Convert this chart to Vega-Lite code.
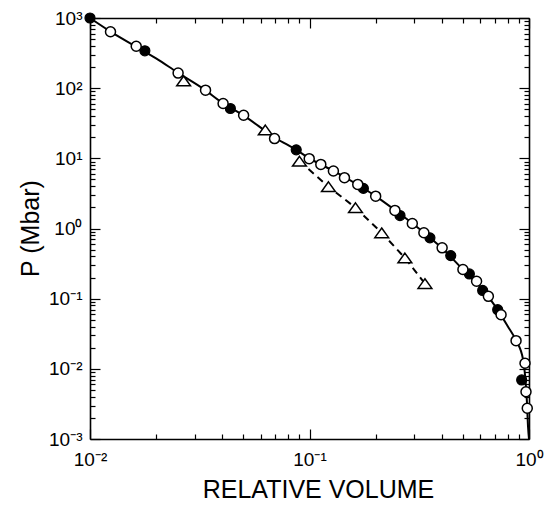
{
  "$schema": "https://vega.github.io/schema/vega-lite/v6.json",
  "width": 439,
  "height": 421,
  "autosize": "none",
  "padding": {"left": 90, "top": 18, "right": 26, "bottom": 68},
  "background": "white",
  "config": {
    "view": {"stroke": null},
    "font": "Liberation Sans",
    "axis": {
      "domainColor": "black", "domainWidth": 1.6, "tickColor": "black", "tickWidth": 1.2,
      "labelColor": "black", "titleColor": "black", "grid": false,
      "labelFont": "Liberation Sans", "titleFont": "Liberation Sans",
      "labelFontSize": 19, "titleFontSize": 25, "titleFontWeight": "normal",
      "labelOverlap": false, "labelFlush": false, "labelBound": false
    }
  },
  "data": {"values": [
    {"s": "curve", "v": 0.01, "p": 1000}, {"s": "curve", "v": 0.0124, "p": 640}, {"s": "curve", "v": 0.016, "p": 400},
    {"s": "curve", "v": 0.02, "p": 266}, {"s": "curve", "v": 0.025, "p": 168}, {"s": "curve", "v": 0.033, "p": 97},
    {"s": "curve", "v": 0.04, "p": 62}, {"s": "curve", "v": 0.05, "p": 41}, {"s": "curve", "v": 0.07, "p": 19.5},
    {"s": "curve", "v": 0.087, "p": 13.2}, {"s": "curve", "v": 0.1, "p": 10}, {"s": "curve", "v": 0.13, "p": 6.5},
    {"s": "curve", "v": 0.17, "p": 4.0}, {"s": "curve", "v": 0.2, "p": 2.9}, {"s": "curve", "v": 0.25, "p": 1.75},
    {"s": "curve", "v": 0.3, "p": 1.13}, {"s": "curve", "v": 0.35, "p": 0.76}, {"s": "curve", "v": 0.4, "p": 0.53},
    {"s": "curve", "v": 0.5, "p": 0.26}, {"s": "curve", "v": 0.6, "p": 0.147}, {"s": "curve", "v": 0.7, "p": 0.079},
    {"s": "curve", "v": 0.8, "p": 0.0405}, {"s": "curve", "v": 0.873, "p": 0.0254}, {"s": "curve", "v": 0.94, "p": 0.0135},
    {"s": "curve", "v": 0.965, "p": 0.0065}, {"s": "curve", "v": 0.978, "p": 0.0035}, {"s": "curve", "v": 0.99, "p": 0.0015},
    {"s": "curve", "v": 1.0, "p": 0.001},
    {"s": "dash", "v": 0.09, "p": 9.1}, {"s": "dash", "v": 0.122, "p": 3.95}, {"s": "dash", "v": 0.162, "p": 1.98},
    {"s": "dash", "v": 0.2133, "p": 0.868}, {"s": "dash", "v": 0.272, "p": 0.381}, {"s": "dash", "v": 0.3357, "p": 0.164},
    {"s": "tri", "v": 0.0267, "p": 127}, {"s": "tri", "v": 0.0629, "p": 25.4}, {"s": "tri", "v": 0.09, "p": 9.1},
    {"s": "tri", "v": 0.122, "p": 3.95}, {"s": "tri", "v": 0.162, "p": 1.98}, {"s": "tri", "v": 0.2133, "p": 0.868},
    {"s": "tri", "v": 0.272, "p": 0.381}, {"s": "tri", "v": 0.3357, "p": 0.164},
    {"s": "filled", "v": 0.01, "p": 1000}, {"s": "filled", "v": 0.01778, "p": 341}, {"s": "filled", "v": 0.0436, "p": 51.3},
    {"s": "filled", "v": 0.087, "p": 13.2}, {"s": "filled", "v": 0.176, "p": 3.73}, {"s": "filled", "v": 0.2584, "p": 1.53},
    {"s": "filled", "v": 0.3537, "p": 0.736}, {"s": "filled", "v": 0.44, "p": 0.411}, {"s": "filled", "v": 0.535, "p": 0.225},
    {"s": "filled", "v": 0.615, "p": 0.131}, {"s": "filled", "v": 0.72, "p": 0.0697}, {"s": "filled", "v": 0.926, "p": 0.00694},
    {"s": "open", "v": 0.0124, "p": 637}, {"s": "open", "v": 0.01624, "p": 395}, {"s": "open", "v": 0.0252, "p": 164},
    {"s": "open", "v": 0.0336, "p": 93.6}, {"s": "open", "v": 0.0404, "p": 60.4}, {"s": "open", "v": 0.0501, "p": 41.1},
    {"s": "open", "v": 0.0693, "p": 19.1}, {"s": "open", "v": 0.0997, "p": 9.9}, {"s": "open", "v": 0.1126, "p": 8.2},
    {"s": "open", "v": 0.1285, "p": 6.6}, {"s": "open", "v": 0.1443, "p": 5.3}, {"s": "open", "v": 0.1659, "p": 4.25},
    {"s": "open", "v": 0.2002, "p": 2.89}, {"s": "open", "v": 0.245, "p": 1.81}, {"s": "open", "v": 0.294, "p": 1.18},
    {"s": "open", "v": 0.332, "p": 0.869}, {"s": "open", "v": 0.402, "p": 0.53}, {"s": "open", "v": 0.5, "p": 0.26},
    {"s": "open", "v": 0.577, "p": 0.177}, {"s": "open", "v": 0.653, "p": 0.108}, {"s": "open", "v": 0.746, "p": 0.059},
    {"s": "open", "v": 0.873, "p": 0.0252}, {"s": "open", "v": 0.959, "p": 0.012}, {"s": "open", "v": 0.969, "p": 0.00472},
    {"s": "open", "v": 0.982, "p": 0.00274}
  ]},
  "resolve": {"axis": {"x": "independent", "y": "independent"}},
  "layer": [
    {
      "transform": [{"filter": "datum.s === 'curve'"}],
      "mark": {"type": "line", "color": "black", "strokeWidth": 2, "interpolate": "monotone"},
      "encoding": {
        "x": {"field": "v", "type": "quantitative", "scale": {"type": "log", "domain": [0.01, 1], "nice": false},
          "axis": {"orient": "bottom", "values": [0.01, 0.1, 1], "tickSize": -10, "labelPadding": 36,
            "labelBaseline": "alphabetic", "labelAlign": "center",
            "labelExpr": "['10⁻²','10⁻¹','10⁰'][round(log(datum.value)/LN10)+2]",
            "title": "RELATIVE VOLUME", "titleX": 228, "titleY": 58, "titleBaseline": "alphabetic", "titleAlign": "center"}},
        "y": {"field": "p", "type": "quantitative", "scale": {"type": "log", "domain": [0.001, 1000], "nice": false},
          "axis": {"orient": "left", "values": [0.001, 0.01, 0.1, 1, 10, 100, 1000], "tickSize": -10, "labelPadding": 18,
            "labelBaseline": "middle", "labelAlign": "right",
            "labelExpr": "['10⁻³','10⁻²','10⁻¹','10⁰','10¹','10²','10³'][round(log(datum.value)/LN10)+3]",
            "title": "P (Mbar)", "titleX": -60, "titleY": 210, "titleAngle": 270, "titleBaseline": "middle", "titleAlign": "center"}}
      }
    },
    {
      "transform": [{"filter": "datum.s === 'dash'"}],
      "mark": {"type": "line", "color": "black", "strokeWidth": 2, "strokeDash": [7, 5]},
      "encoding": {
        "x": {"field": "v", "type": "quantitative",
          "axis": {"orient": "bottom", "values": [0.02,0.03,0.04,0.05,0.06,0.07,0.08,0.09,0.2,0.3,0.4,0.5,0.6,0.7,0.8,0.9],
            "tickSize": -5, "labels": false, "title": null, "domain": false}},
        "y": {"field": "p", "type": "quantitative",
          "axis": {"orient": "left", "values": [0.002,0.003,0.004,0.005,0.006,0.007,0.008,0.009,0.02,0.03,0.04,0.05,0.06,0.07,0.08,0.09,0.2,0.3,0.4,0.5,0.6,0.7,0.8,0.9,2,3,4,5,6,7,8,9,20,30,40,50,60,70,80,90,200,300,400,500,600,700,800,900],
            "tickSize": -5, "labels": false, "title": null, "domain": false}}
      }
    },
    {
      "transform": [{"filter": "datum.s === 'tri'"}],
      "mark": {"type": "point", "shape": "M0,-0.7L1,0.7L-1,0.7Z", "size": 190, "filled": true, "fill": "white", "stroke": "black", "strokeWidth": 1.5, "opacity": 1},
      "encoding": {
        "x": {"field": "v", "type": "quantitative",
          "axis": {"orient": "top", "values": [0.01, 0.1, 1], "tickSize": -10, "labels": false, "title": null}},
        "y": {"field": "p", "type": "quantitative",
          "axis": {"orient": "right", "values": [0.001, 0.01, 0.1, 1, 10, 100, 1000], "tickSize": -10, "labels": false, "title": null}}
      }
    },
    {
      "transform": [{"filter": "datum.s === 'filled'"}],
      "mark": {"type": "point", "shape": "circle", "size": 100, "filled": true, "fill": "black", "stroke": "black", "strokeWidth": 1.2, "opacity": 1},
      "encoding": {
        "x": {"field": "v", "type": "quantitative",
          "axis": {"orient": "top", "values": [0.02,0.03,0.04,0.05,0.06,0.07,0.08,0.09,0.2,0.3,0.4,0.5,0.6,0.7,0.8,0.9],
            "tickSize": -5, "labels": false, "title": null, "domain": false}},
        "y": {"field": "p", "type": "quantitative",
          "axis": {"orient": "right", "values": [0.002,0.003,0.004,0.005,0.006,0.007,0.008,0.009,0.02,0.03,0.04,0.05,0.06,0.07,0.08,0.09,0.2,0.3,0.4,0.5,0.6,0.7,0.8,0.9,2,3,4,5,6,7,8,9,20,30,40,50,60,70,80,90,200,300,400,500,600,700,800,900],
            "tickSize": -5, "labels": false, "title": null, "domain": false}}
      }
    },
    {
      "transform": [{"filter": "datum.s === 'open'"}],
      "mark": {"type": "point", "shape": "circle", "size": 100, "filled": true, "fill": "white", "stroke": "black", "strokeWidth": 1.5, "opacity": 1},
      "encoding": {
        "x": {"field": "v", "type": "quantitative", "axis": null},
        "y": {"field": "p", "type": "quantitative", "axis": null}
      }
    }
  ]
}
